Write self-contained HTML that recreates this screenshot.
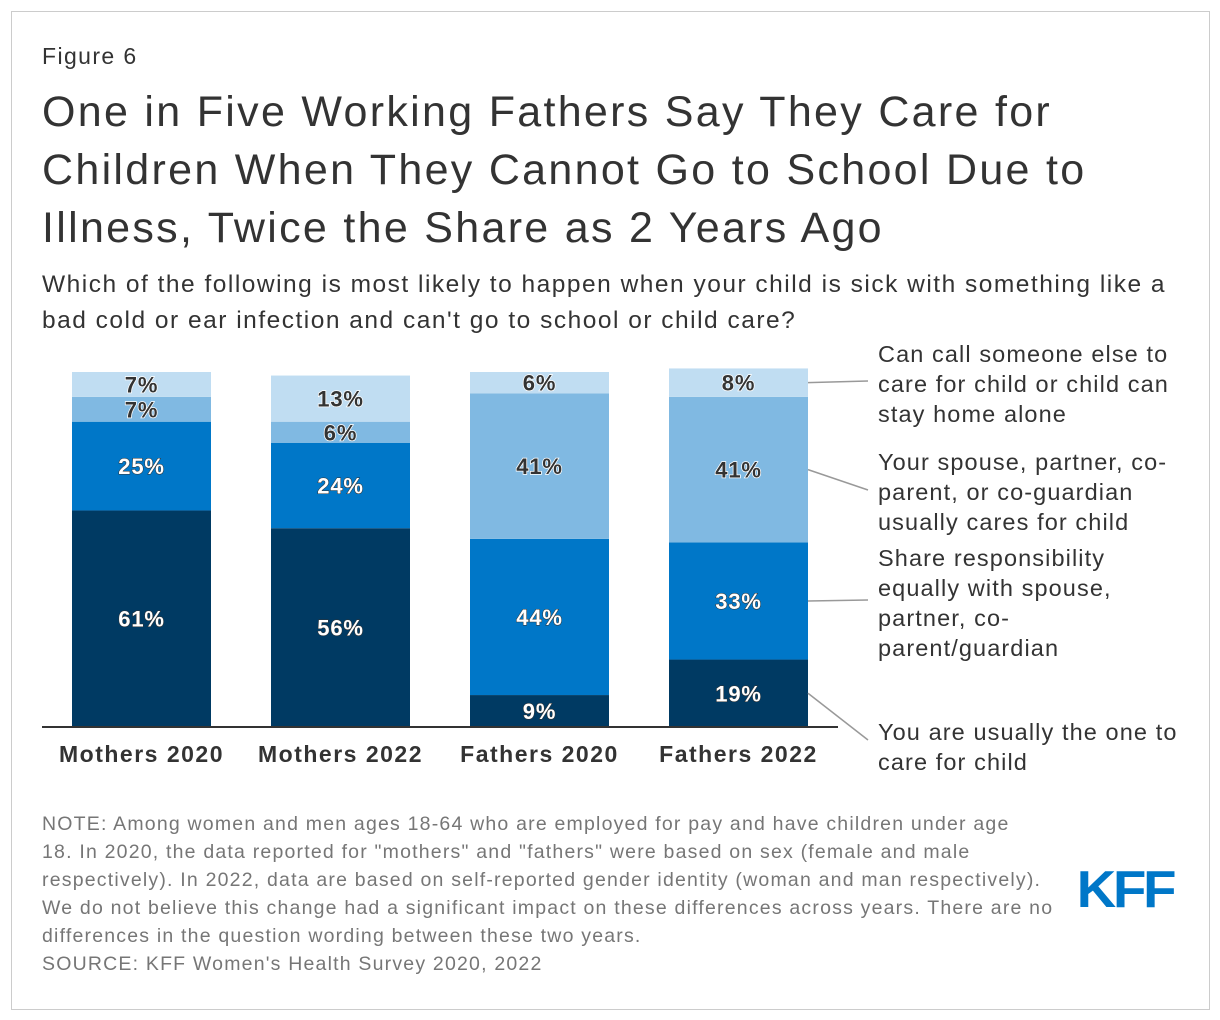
<!DOCTYPE html>
<html><head><meta charset="utf-8"><style>
body{margin:0;background:#fff;font-family:"Liberation Sans",Arial,sans-serif;}
#wrap{position:relative;width:1220px;height:1020px;overflow:hidden}
#frame{position:absolute;left:11px;top:11px;width:1197px;height:997px;border:1px solid #ccc}
.t{position:absolute;color:#333;white-space:nowrap}
</style></head><body><div id="wrap">
<div id="frame"></div>
<div class="t" style="left:42px;top:43px;font-size:23px;letter-spacing:1.4px">Figure 6</div>
<div class="t" style="left:42px;top:83px;font-size:43px;line-height:58px;letter-spacing:2.3px">One in Five Working Fathers Say They Care for<br>Children When They Cannot Go to School Due to<br>Illness, Twice the Share as 2 Years Ago</div>
<div class="t" style="left:42px;top:267px;font-size:24.5px;line-height:36px;letter-spacing:1.5px">Which of the following is most likely to happen when your child is sick with something like a<br>bad cold or ear infection and can't go to school or child care?</div>
<svg id="chart" width="1220" height="1020" style="position:absolute;left:0;top:0"></svg>
<div class="t" style="left:42px;top:810px;font-size:19.5px;line-height:28px;color:#767676;letter-spacing:1.2px">NOTE: Among women and men ages 18-64 who are employed for pay and have children under age<br>18. In 2020, the data reported for "mothers" and "fathers" were based on sex (female and male<br>respectively). In 2022, data are based on self-reported gender identity (woman and man respectively).<br>We do not believe this change had a significant impact on these differences across years. There are no<br>differences in the question wording between these two years.<br>SOURCE: KFF Women's Health Survey 2020, 2022</div>
<div class="t" style="left:1079px;top:860px;font-size:52px;font-weight:bold;color:#0077c8;letter-spacing:-3px;transform:scaleX(1.05)">KFF</div>
</div>
<script>
const categories=["Mothers 2020","Mothers 2022","Fathers 2020","Fathers 2022"];
const seriesNames=["You are usually the one to care for child","Share responsibility equally with spouse, partner, co-parent/guardian","Your spouse, partner, co-parent, or co-guardian usually cares for child","Can call someone else to care for child or child can stay home alone"];
const youValues=[61,56,9,19];
const shareValues=[25,24,44,33];
const spouseValues=[7,6,41,41];
const otherValues=[7,13,6,8];
const series=[youValues,shareValues,spouseValues,otherValues];
const colors=["#003a63","#0077c8","#80b9e2","#c0ddf2"];
const textDark=[false,false,true,true];
const NS="http://www.w3.org/2000/svg";
const svg=document.getElementById('chart');
const base=727,k=3.55,barW=139;
function y(v){return base-v*k;}
function bx(i){return 72+i*199;}
function mk(t,a){const e=document.createElementNS(NS,t);for(const n in a)e.setAttribute(n,a[n]);svg.appendChild(e);return e;}
categories.forEach((c,i)=>{
  let cum=0;
  series.forEach((s,j)=>{
    const v=s[i];
    const r=mk('rect',{x:bx(i),y:y(cum+v),width:barW,height:v*k,fill:colors[j]});
    
    
    const t=mk('text',{x:bx(i)+barW/2,y:y(cum+v/2)+8,'text-anchor':'middle','font-size':22,'font-weight':'bold','letter-spacing':0.8,fill:textDark[j]?'#333':'#fff',stroke:textDark[j]?'#fff':'#333','stroke-width':textDark[j]?1.5:1,'paint-order':'stroke','font-family':'Liberation Sans, sans-serif'});
    t.textContent=v+'%';
    
    
    cum+=v;
  });
  const l=mk('text',{x:bx(i)+barW/2,y:762,'text-anchor':'middle','font-size':23,'font-weight':'bold','letter-spacing':1.5,fill:'#333','font-family':'Liberation Sans, sans-serif'});
  l.textContent=c;
  
  
});
const ax=mk('line',{x1:42,x2:838,y1:727,y2:727,stroke:'#333','stroke-width':2});


const legendY=[740,600,490,381];
const legendLines=[["You are usually the one to","care for child"],["Share responsibility","equally with spouse,","partner, co-","parent/guardian"],["Your spouse, partner, co-","parent, or co-guardian","usually cares for child"],["Can call someone else to","care for child or child can","stay home alone"]];
const legendTop=[732,558,462,354];
const last=categories.length-1;
let cum=0;
series.forEach((s,j)=>{
  const v=s[last];
  const my=y(cum+v/2);cum+=v;
  const ln=mk('line',{x1:808,y1:my,x2:868,y2:legendY[j],stroke:'#999','stroke-width':1.5});
  
  
  legendLines[j].forEach((tx,m)=>{
    const t=mk('text',{x:878,y:legendTop[j]+m*30+8,'font-size':23.5,'letter-spacing':1.1,fill:'#333','font-family':'Liberation Sans, sans-serif'});
    t.textContent=tx;
    
    
  });
});
</script>
</body></html>
